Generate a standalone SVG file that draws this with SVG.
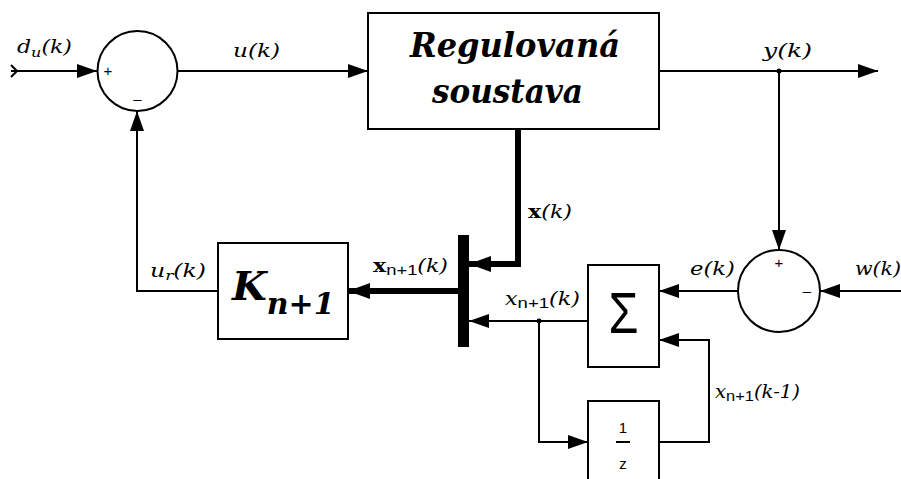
<svg xmlns="http://www.w3.org/2000/svg" width="901" height="479" viewBox="0 0 901 479">
<defs>
<style>
.ln{fill:none;stroke:#000;stroke-width:2}
.thk{fill:none;stroke:#000;stroke-width:6}
.box{fill:#fff;stroke:#000;stroke-width:2}
.lbl{font-family:'DejaVu Serif','Liberation Serif',serif;font-style:italic;font-size:18px;fill:#000}
.sans{font-family:'Liberation Sans','DejaVu Sans',Arial,sans-serif;font-style:normal}
.big{font-family:'DejaVu Serif','Liberation Serif',serif;font-style:italic;font-weight:bold;fill:#000}
.sgn{font-family:'Liberation Sans','DejaVu Sans',Arial,sans-serif;font-size:15px;fill:#000}
</style>
<marker id="a" markerUnits="userSpaceOnUse" markerWidth="20" markerHeight="16" viewBox="0 0 20 16" refX="20" refY="8" orient="auto">
<path d="M0,1 L20,8 L0,15 z" fill="#000"/>
</marker>
<marker id="at" markerUnits="userSpaceOnUse" markerWidth="22" markerHeight="18" viewBox="0 0 22 18" refX="22" refY="9" orient="auto">
<path d="M0,1 L22,9 L0,17 z" fill="#000"/>
</marker>
</defs>

<g id="connectors">
<polyline class="ln" points="11,65 17,71 11,77"/>
<line class="ln" x1="11" y1="71" x2="97" y2="71" marker-end="url(#a)"/>
<line class="ln" x1="178" y1="71" x2="368" y2="71" marker-end="url(#a)"/>
<line class="ln" x1="659" y1="71" x2="878" y2="71" marker-end="url(#a)"/>
<circle cx="779" cy="71" r="2.5" fill="#000"/>
<line class="ln" x1="779" y1="71" x2="779" y2="250" marker-end="url(#a)"/>
<line class="ln" x1="901" y1="291" x2="820" y2="291" marker-end="url(#a)"/>
<line class="ln" x1="738" y1="291" x2="659" y2="291" marker-end="url(#a)"/>
<polyline class="ln" points="659,442 709,442 709,340 659,340" marker-end="url(#a)"/>
<line class="ln" x1="588" y1="321" x2="469" y2="321" marker-end="url(#a)"/>
<circle cx="539" cy="321" r="2.5" fill="#000"/>
<polyline class="ln" points="539,321 539,442 588,442" marker-end="url(#a)"/>
<polyline class="thk" points="518,129 518,264 469,264" marker-end="url(#at)"/>
<line class="thk" x1="458" y1="291" x2="348" y2="291" marker-end="url(#at)"/>
<polyline class="ln" points="218,291 137,291 137,111" marker-end="url(#a)"/>
</g>

<g id="sum1">
<circle class="box" cx="137.5" cy="71" r="40"/>
<text class="sgn" x="108" y="76" text-anchor="middle">+</text>
<text class="sgn" x="137.5" y="104" text-anchor="middle">–</text>
</g>

<g id="plant">
<rect class="box" x="368" y="13" width="291" height="116"/>
<text class="big" x="410" y="57" font-size="33" textLength="210" lengthAdjust="spacingAndGlyphs">Regulovaná</text>
<text class="big" x="432" y="103" font-size="33" textLength="151" lengthAdjust="spacingAndGlyphs">soustava</text>
</g>

<g id="sum2">
<circle class="box" cx="779" cy="291" r="41"/>
<text class="sgn" x="779" y="268" text-anchor="middle">+</text>
<text class="sgn" x="807" y="296" text-anchor="middle">–</text>
</g>

<g id="sigma">
<rect class="box" x="588" y="265" width="71" height="102"/>
<text x="623.5" y="333" font-family="'Liberation Sans','DejaVu Sans',Arial,sans-serif" font-size="58" text-anchor="middle" fill="#000" textLength="30" lengthAdjust="spacingAndGlyphs">Σ</text>
</g>

<g id="delay">
<rect class="box" x="588" y="401" width="71" height="90"/>
<text class="sgn" x="623" y="433" font-size="16" text-anchor="middle">1</text>
<line x1="616" y1="442" x2="630" y2="442" stroke="#000" stroke-width="2"/>
<text class="sgn" x="623" y="469" font-size="16" text-anchor="middle">z</text>
</g>

<g id="mux">
<rect x="458" y="235" width="11" height="112" fill="#000"/>
</g>

<g id="gain">
<rect class="box" x="218" y="243" width="130" height="96"/>
<text class="big" x="232" y="300" font-size="40">K<tspan font-size="30" dy="14">n+1</tspan></text>
</g>

<g id="labels">
<text class="lbl" x="17" y="53" font-size="17" textLength="55" lengthAdjust="spacingAndGlyphs">d<tspan font-size="13" dy="4">u</tspan><tspan dy="-4">(k)</tspan></text>
<text class="lbl" x="233" y="57" textLength="47" lengthAdjust="spacingAndGlyphs">u(k)</text>
<text class="lbl" x="763" y="57" textLength="49" lengthAdjust="spacingAndGlyphs">y(k)</text>
<text class="lbl" x="528" y="218" textLength="44" lengthAdjust="spacingAndGlyphs"><tspan font-style="normal" font-weight="bold">x</tspan>(k)</text>
<text class="lbl" x="373" y="272" textLength="75" lengthAdjust="spacingAndGlyphs"><tspan font-style="normal" font-weight="bold">x</tspan><tspan class="sans" font-size="15" dy="3">n+1</tspan><tspan dy="-3">(k)</tspan></text>
<text class="lbl" x="505" y="305" textLength="75" lengthAdjust="spacingAndGlyphs">x<tspan class="sans" font-size="15" dy="3">n+1</tspan><tspan dy="-3">(k)</tspan></text>
<text class="lbl" x="150" y="277" textLength="56" lengthAdjust="spacingAndGlyphs">u<tspan font-size="13" dy="3">r</tspan><tspan dy="-3">(k)</tspan></text>
<text class="lbl" x="690" y="275" textLength="45" lengthAdjust="spacingAndGlyphs">e(k)</text>
<text class="lbl" x="855" y="275" textLength="46" lengthAdjust="spacingAndGlyphs">w(k)</text>
<text class="lbl" x="715" y="398" textLength="85" lengthAdjust="spacingAndGlyphs">x<tspan class="sans" font-size="15" dy="3">n+1</tspan><tspan dy="-3">(k-1)</tspan></text>
</g>
</svg>
